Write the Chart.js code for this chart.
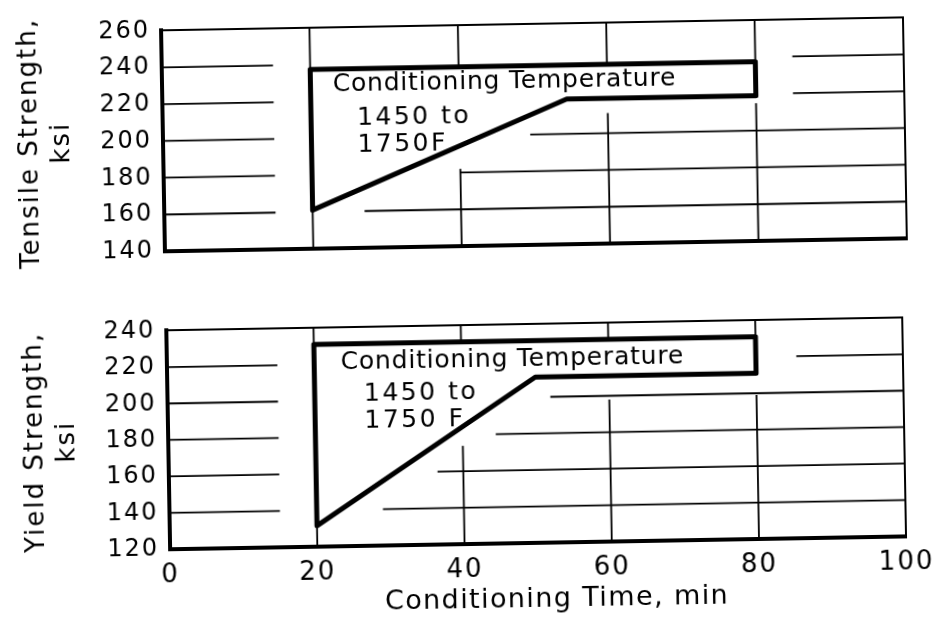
<!DOCTYPE html>
<html>
<head>
<meta charset="utf-8">
<script src="https://cdn.jsdelivr.net/npm/chart.js@4.4.1/dist/chart.umd.min.js"></script>
<style>
  html, body { margin: 0; background: #fff; }
  #sheet { position: relative; width: 938px; height: 620px; transform: rotate(-1deg); transform-origin: 469px 310px; }
  #sheet canvas { position: absolute; left: 0; }
  #tensile { top: 0; }
  #yield { top: 300px; }
  #timeTitle { position: absolute; left: 552px; top: 583px; transform: translateX(-50%); white-space: nowrap;
               font: 27px "DejaVu Sans", sans-serif; letter-spacing: 1.4px; color: #000; }
</style>
</head>
<body>
<div id="sheet">
  <canvas id="tensile" width="938" height="300"></canvas>
  <canvas id="yield" width="938" height="320"></canvas>
  <div id="timeTitle">Conditioning Time, min</div>
</div>
<script>
Chart.defaults.font.family = '"DejaVu Sans", sans-serif';
Chart.defaults.color = '#000';

const timeTicks = [0, 20, 40, 60, 80, 100];
const tensileTicks = [140, 160, 180, 200, 220, 240, 260];
const yieldTicks = [120, 140, 160, 180, 200, 220, 240];

// strength band for conditioning at 1450 to 1750F, traced as a closed outline
const tensileBandTime = [20, 54.5, 80, 80, 20, 20];
const tensileBandKsi = [161, 219, 219, 237.5, 237.5, 161];
const yieldBandTime = [20, 50, 80, 80, 20, 20];
const yieldBandKsi = [131.5, 211, 211, 231, 231, 131.5];

// ruled grid, broken around the lettering: [min1, ksi1, min2, ksi2]
const tensileRules = [
  [20, 140, 20, 260],
  [40, 237.5, 40, 260], [40, 140, 40, 182],
  [60, 237.5, 60, 260], [60, 140, 60, 211],
  [80, 237.5, 80, 260], [80, 140, 80, 215],
  [0, 240, 15, 240], [85, 240, 100, 240],
  [0, 220, 15, 220], [85, 220, 100, 220],
  [0, 200, 15, 200], [49.5, 200, 100, 200],
  [0, 180, 15, 180], [40, 180, 100, 180],
  [0, 160, 15, 160], [27, 160, 100, 160]
];
const yieldRules = [
  [20, 120, 20, 240],
  [40, 231, 40, 240], [40, 120, 40, 174],
  [60, 231, 60, 240], [60, 120, 60, 198],
  [80, 231, 80, 240], [80, 120, 80, 199],
  [0, 220, 15, 220], [85.5, 220, 100, 220],
  [0, 200, 15, 200], [52, 200, 100, 200],
  [0, 180, 15, 180], [44.5, 180, 100, 180],
  [0, 160, 15, 160], [36.5, 160, 100, 160],
  [0, 140, 15, 140], [29, 140, 100, 140]
];

// wide lettering for axis text
const spaced = {
  id: 'spaced',
  beforeDraw(chart) { chart.ctx.letterSpacing = '2px'; }
};

// notes written inside the plot, placed in data units
function notesPlugin(items) {
  return {
    id: 'notes',
    afterDatasetsDraw(chart) {
      const { ctx, scales: { x, y } } = chart;
      ctx.save();
      ctx.font = '25px "DejaVu Sans", sans-serif';
      ctx.fillStyle = '#000';
      ctx.textAlign = 'left';
      ctx.textBaseline = 'middle';
      items.forEach(n => {
        ctx.letterSpacing = n.gap + 'px';
        ctx.fillText(n.text, x.getPixelForValue(n.x), y.getPixelForValue(n.y));
      });
      ctx.restore();
    }
  };
}

function strengthPanel(id, o) {
  const rules = o.rules.map(r => ({
    data: [{ x: r[0], y: r[1] }, { x: r[2], y: r[3] }],
    borderColor: '#000',
    borderWidth: 1.8,
    pointRadius: 0
  }));
  const band = {
    data: o.time.map((t, i) => ({ x: t, y: o.ksi[i] })),
    borderColor: '#000',
    borderWidth: 5,
    borderJoinStyle: 'round',
    pointRadius: 0
  };
  const edge = (w) => ({ display: true, color: '#000', width: w });
  const noGrid = { display: false, drawTicks: false };

  return new Chart(document.getElementById(id), {
    type: 'line',
    data: { datasets: [...rules, band] },
    plugins: [spaced, notesPlugin(o.notes)],
    options: {
      responsive: false,
      devicePixelRatio: 1,
      animation: false,
      layout: { padding: { left: 0, right: 30, top: o.top, bottom: 0 } },
      plugins: { legend: { display: false }, tooltip: { enabled: false } },
      scales: {
        x: {
          type: 'linear', position: 'bottom', min: 0, max: 100,
          afterBuildTicks: s => { s.ticks = timeTicks.map(v => ({ value: v })); },
          ticks: { display: o.showTime, padding: 11, font: { size: 26 } },
          grid: noGrid,
          border: edge(4),
          afterFit: s => { s.height = o.timeHeight; }
        },
        xTop: {
          type: 'linear', position: 'top', min: 0, max: 100,
          ticks: { display: false }, grid: noGrid, border: edge(2),
          afterFit: s => { s.height = 0; }
        },
        y: {
          type: 'linear', position: 'left', min: o.ticks[0], max: o.ticks[o.ticks.length - 1],
          afterBuildTicks: s => { s.ticks = o.ticks.map(v => ({ value: v })); },
          ticks: { padding: 11, font: { size: 24 } },
          grid: noGrid,
          border: edge(4),
          title: {
            display: true, text: o.title, color: '#000',
            font: { size: 26, lineHeight: 1.23 },
            padding: { top: 17, bottom: 0 }
          },
          afterFit: s => { s.width = 166; }
        },
        yRight: {
          type: 'linear', position: 'right', min: o.ticks[0], max: o.ticks[o.ticks.length - 1],
          ticks: { display: false }, grid: noGrid, border: edge(2),
          afterFit: s => { s.width = 0; }
        }
      }
    }
  });
}

strengthPanel('tensile', {
  title: ['Tensile Strength,', 'ksi'],
  ticks: tensileTicks,
  rules: tensileRules,
  time: tensileBandTime,
  ksi: tensileBandKsi,
  top: 23,
  timeHeight: 54,
  showTime: false,
  notes: [
    { text: 'Conditioning Temperature', x: 23, y: 229, gap: 0.8 },
    { text: '1450 to', x: 26.2, y: 210.5, gap: 2.5 },
    { text: '1750F', x: 26.2, y: 195.5, gap: 2.5 }
  ]
});

strengthPanel('yield', {
  title: ['Yield Strength,', 'ksi'],
  ticks: yieldTicks,
  rules: yieldRules,
  time: yieldBandTime,
  ksi: yieldBandKsi,
  top: 20,
  timeHeight: 76,
  showTime: true,
  notes: [
    { text: 'Conditioning Temperature', x: 23.6, y: 220.6, gap: 0.8 },
    { text: '1450 to', x: 26.7, y: 203.4, gap: 2.5 },
    { text: '1750 F', x: 26.7, y: 188.4, gap: 2.5 }
  ]
});
</script>
</body>
</html>
